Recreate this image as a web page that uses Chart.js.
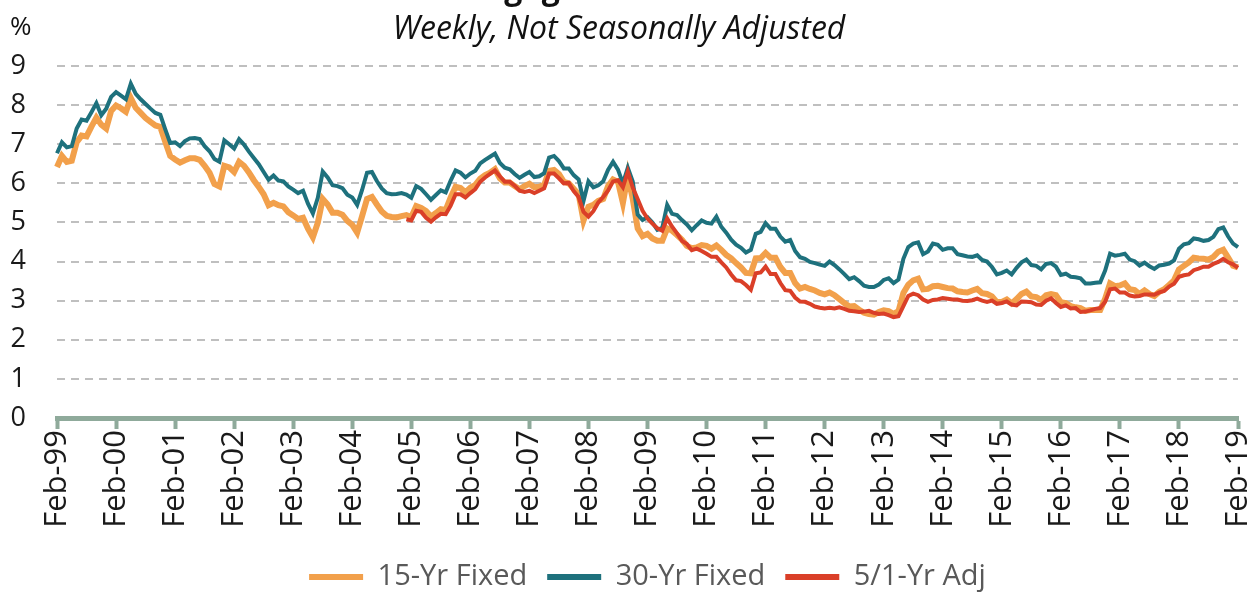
<!DOCTYPE html>
<html>
<head>
<meta charset="utf-8">
<script src="https://cdn.jsdelivr.net/npm/chart.js@4.4.1/dist/chart.umd.min.js"></script>
<style>
body{margin:0;background:#fff}
#wrap{width:1250px;height:593px}
</style>
</head>
<body>
<div id="wrap"><canvas id="grafico"></canvas></div>
<script>
let titulo = "Mortgage Interest Rates"
let subtitulo = "Weekly, Not Seasonally Adjusted"
let series = ["15-Yr Fixed", "30-Yr Fixed", "5/1-Yr Adj"]
let meses = ["Jan","Feb","Mar","Apr","May","Jun","Jul","Aug","Sep","Oct","Nov","Dec"]

// monthly readings, Feb-99 .. Feb-19
let fixed30 = [
  6.77, 7.05, 6.92, 6.95, 7.40, 7.63, 7.60, 7.82, 8.05, 7.74, 7.91,
  8.21, 8.33, 8.24, 8.15, 8.55, 8.29, 8.15, 8.03, 7.91, 7.80, 7.75, 7.38,
  7.03, 7.05, 6.95, 7.08, 7.15, 7.16, 7.13, 6.95, 6.82, 6.62, 6.55, 7.10,
  7.00, 6.89, 7.13, 6.99, 6.81, 6.65, 6.49, 6.29, 6.09, 6.20, 6.07, 6.05,
  5.92, 5.84, 5.75, 5.81, 5.48, 5.23, 5.63, 6.30, 6.15, 5.95, 5.93, 5.88,
  5.71, 5.64, 5.45, 5.83, 6.27, 6.29, 6.06, 5.87, 5.75, 5.72, 5.73, 5.75,
  5.71, 5.63, 5.93, 5.86, 5.72, 5.58, 5.70, 5.82, 5.77, 6.07, 6.33, 6.27,
  6.15, 6.25, 6.32, 6.51, 6.60, 6.68, 6.76, 6.52, 6.40, 6.36, 6.24, 6.14,
  6.22, 6.29, 6.16, 6.18, 6.26, 6.66, 6.70, 6.57, 6.38, 6.38, 6.21, 6.10,
  5.55, 6.05, 5.90, 5.95, 6.05, 6.35, 6.55, 6.35, 6.00, 6.40, 6.05, 5.20,
  5.06, 5.13, 5.00, 4.81, 4.86, 5.45, 5.22, 5.19, 5.06, 4.95, 4.80, 4.93,
  5.05, 4.99, 4.97, 5.15, 4.89, 4.74, 4.56, 4.43, 4.35, 4.23, 4.30, 4.71,
  4.76, 4.98, 4.84, 4.84, 4.64, 4.51, 4.55, 4.27, 4.11, 4.07, 3.99, 3.96,
  3.92, 3.89, 4.00, 3.91, 3.80, 3.68, 3.55, 3.60, 3.50, 3.38, 3.35, 3.35,
  3.41, 3.53, 3.57, 3.45, 3.54, 4.07, 4.37, 4.46, 4.49, 4.19, 4.26, 4.46,
  4.43, 4.30, 4.34, 4.34, 4.19, 4.16, 4.13, 4.12, 4.16, 4.04, 4.00, 3.86,
  3.67, 3.71, 3.77, 3.67, 3.84, 3.98, 4.05, 3.91, 3.89, 3.80, 3.94, 3.96,
  3.87, 3.66, 3.69, 3.61, 3.60, 3.57, 3.44, 3.44, 3.46, 3.47, 3.77, 4.20,
  4.15, 4.17, 4.20, 4.05, 4.01, 3.90, 3.97, 3.88, 3.81, 3.90, 3.92, 3.95,
  4.03, 4.33, 4.44, 4.47, 4.59, 4.57, 4.53, 4.55, 4.63, 4.83, 4.87, 4.64,
  4.46, 4.37
]

let fixed15 = [
  6.42, 6.70, 6.55, 6.58, 7.05, 7.22, 7.20, 7.45, 7.68, 7.50, 7.40,
  7.85, 7.99, 7.92, 7.83, 8.18, 7.93, 7.80, 7.67, 7.57, 7.48, 7.44, 7.06,
  6.70, 6.61, 6.53, 6.59, 6.64, 6.64, 6.60, 6.45, 6.27, 5.98, 5.92, 6.45,
  6.41, 6.29, 6.55, 6.45, 6.28, 6.08, 5.91, 5.72, 5.44, 5.50, 5.44, 5.41,
  5.26, 5.18, 5.09, 5.12, 4.84, 4.62, 4.99, 5.60, 5.46, 5.25, 5.25, 5.20,
  5.04, 4.94, 4.74, 5.16, 5.60, 5.65, 5.46, 5.28, 5.17, 5.14, 5.13, 5.16,
  5.19, 5.14, 5.42, 5.37, 5.29, 5.15, 5.24, 5.34, 5.32, 5.64, 5.91, 5.88,
  5.77, 5.89, 5.96, 6.12, 6.21, 6.27, 6.36, 6.13, 6.02, 6.02, 5.93, 5.85,
  5.93, 5.99, 5.90, 5.91, 5.96, 6.32, 6.34, 6.24, 6.04, 6.00, 5.86, 5.72,
  5.05, 5.40, 5.45, 5.55, 5.60, 5.93, 6.10, 6.04, 5.50, 6.20, 5.60, 4.85,
  4.65, 4.71, 4.59, 4.53, 4.53, 4.85, 4.79, 4.68, 4.56, 4.40, 4.34, 4.36,
  4.42, 4.40, 4.33, 4.41, 4.30, 4.17, 4.08, 3.96, 3.85, 3.71, 3.70, 4.08,
  4.09, 4.22, 4.10, 4.10, 3.86, 3.71, 3.71, 3.45, 3.31, 3.35, 3.30, 3.26,
  3.20, 3.16, 3.21, 3.14, 3.04, 2.94, 2.85, 2.86, 2.77, 2.69, 2.66, 2.64,
  2.71, 2.75, 2.73, 2.66, 2.73, 3.20, 3.41, 3.52, 3.56, 3.29, 3.30, 3.37,
  3.38, 3.35, 3.32, 3.31, 3.24, 3.22, 3.21, 3.26, 3.30, 3.19, 3.17, 3.11,
  2.96, 2.97, 3.03, 2.93, 3.04, 3.17, 3.23, 3.11, 3.09, 3.02, 3.14, 3.17,
  3.14, 2.96, 2.94, 2.86, 2.83, 2.81, 2.74, 2.76, 2.76, 2.76, 3.05, 3.44,
  3.37, 3.39, 3.44, 3.29, 3.27, 3.17, 3.26, 3.17, 3.12, 3.23, 3.29, 3.40,
  3.52, 3.80, 3.89, 3.98, 4.10, 4.08, 4.07, 4.05, 4.12, 4.25, 4.30, 4.10,
  3.89, 3.85
]

// 5/1 ARM starts Jan-05
let arm51Inicio = 71
let arm51 = [
  5.08, 5.05, 5.30, 5.27, 5.12, 5.02, 5.13, 5.22, 5.21, 5.43, 5.72, 5.72,
  5.64, 5.75, 5.85, 6.04, 6.15, 6.24, 6.33, 6.18, 6.04, 6.04, 5.94, 5.81,
  5.78, 5.81, 5.75, 5.81, 5.87, 6.25, 6.25, 6.13, 6.00, 6.01, 5.80, 5.65,
  5.27, 5.15, 5.29, 5.51, 5.65, 5.82, 6.05, 6.08, 5.90, 6.30, 5.89, 5.60,
  5.30, 5.10, 4.97, 4.85, 4.79, 5.10, 4.89, 4.72, 4.53, 4.45, 4.29, 4.33,
  4.27, 4.20, 4.12, 4.12, 3.98, 3.85, 3.67, 3.52, 3.50, 3.40, 3.28, 3.70,
  3.72, 3.87, 3.68, 3.68, 3.45, 3.27, 3.25, 3.08, 2.98, 2.97, 2.92, 2.85,
  2.82, 2.80, 2.82, 2.80, 2.83, 2.79, 2.74, 2.73, 2.71, 2.72, 2.74, 2.69,
  2.66, 2.67, 2.63, 2.58, 2.60, 2.86, 3.12, 3.18, 3.14, 3.03, 2.97, 3.02,
  3.03, 3.07, 3.05, 3.03, 3.03, 3.00, 2.99, 3.01, 3.05, 3.00, 2.97, 3.00,
  2.92, 2.94, 2.98, 2.90, 2.88, 2.98, 2.97, 2.96, 2.90, 2.89, 3.00, 3.06,
  2.94, 2.84, 2.88, 2.80, 2.81, 2.71, 2.72, 2.75, 2.79, 2.81, 2.97, 3.29,
  3.31, 3.21, 3.21, 3.13, 3.11, 3.12, 3.16, 3.16, 3.15, 3.21, 3.25, 3.36,
  3.43, 3.61, 3.65, 3.67, 3.78, 3.82, 3.87, 3.87, 3.94, 3.99, 4.07, 3.98,
  3.93, 3.84
]

let etiquetas = []
for (let i = 0; i < fixed30.length; i++) {
  let m = (1 + i) % 12
  let a = 1999 + Math.floor((1 + i) / 12)
  etiquetas.push(meses[m] + "-" + String(a).slice(2))
}

let verde = "#8FAA9B"

let textoArriba = {
  id: "textoArriba",
  afterDraw(chart) {
    let ctx = chart.ctx
    ctx.save()
    ctx.fillStyle = "#111"
    ctx.textAlign = "center"
    ctx.textBaseline = "alphabetic"
    ctx.font = "bold 32px 'Open Sans'"
    ctx.fillText(titulo, 619, -1)
    ctx.textBaseline = "middle"
    ctx.font = "italic 32px 'Open Sans'"
    ctx.fillText(subtitulo, 619, 30)
    ctx.textAlign = "left"
    ctx.font = "26px 'Open Sans'"
    ctx.fillText("%", 10, 28)
    ctx.restore()
  }
}

Chart.defaults.font.family = "'Open Sans', sans-serif"

let grafico = new Chart(document.getElementById("grafico"), {
  type: "line",
  data: {
    labels: etiquetas,
    datasets: [
      {
        label: series[0],
        data: fixed15,
        borderColor: "#F2A04B",
        backgroundColor: "#F2A04B",
        borderWidth: 6,
        order: 3
      },
      {
        label: series[1],
        data: fixed30,
        borderColor: "#1E717D",
        backgroundColor: "#1E717D",
        borderWidth: 4,
        order: 2
      },
      {
        label: series[2],
        data: Array(arm51Inicio).fill(null).concat(arm51),
        borderColor: "#DA3F28",
        backgroundColor: "#DA3F28",
        borderWidth: 4,
        order: 1
      }
    ]
  },
  options: {
    responsive: true,
    maintainAspectRatio: false,
    animation: false,
    elements: { point: { radius: 0 }, line: { tension: 0 } },
    layout: { padding: { top: 66, bottom: -8.5, left: 0, right: 0 } },
    scales: {
      x: {
        ticks: {
          autoSkip: false,
          minRotation: 90,
          maxRotation: 90,
          padding: 1,
          color: "#1a1a1a",
          font: { size: 31 },
          // only the February labels are kept
          callback: function (v, i) {
            return i % 12 === 0 ? this.getLabelForValue(v) : null
          }
        },
        grid: {
          drawOnChartArea: false,
          drawTicks: true,
          tickLength: 11,
          tickWidth: 4,
          tickColor: verde,
          color: "transparent"
        },
        border: { display: true, color: verde, width: 5 },
        afterFit: s => {
          s.height = 124.5
          s.paddingRight = 12
        }
      },
      y: {
        min: 0,
        max: 9,
        ticks: { stepSize: 1, padding: 31, color: "#1a1a1a", font: { size: 27 } },
        grid: {
          drawTicks: false,
          lineWidth: 2,
          color: c => (c.tick && c.tick.value === 0 ? "transparent" : "#BFBFBF")
        },
        border: { display: false, dash: [8, 6] },
        afterFit: s => {
          s.width = 57
        }
      }
    },
    plugins: {
      legend: {
        position: "bottom",
        fullSize: false,
        labels: {
          boxWidth: 54,
          boxHeight: 6,
          padding: 20,
          color: "#595959",
          font: { size: 29 },
          sort: (a, b) => a.datasetIndex - b.datasetIndex,
          generateLabels: chart =>
            Chart.defaults.plugins.legend.labels.generateLabels(chart).map(l => ({ ...l, lineWidth: 0 }))
        }
      },
      tooltip: { enabled: false }
    }
  },
  plugins: [textoArriba]
})
</script>
</body>
</html>
